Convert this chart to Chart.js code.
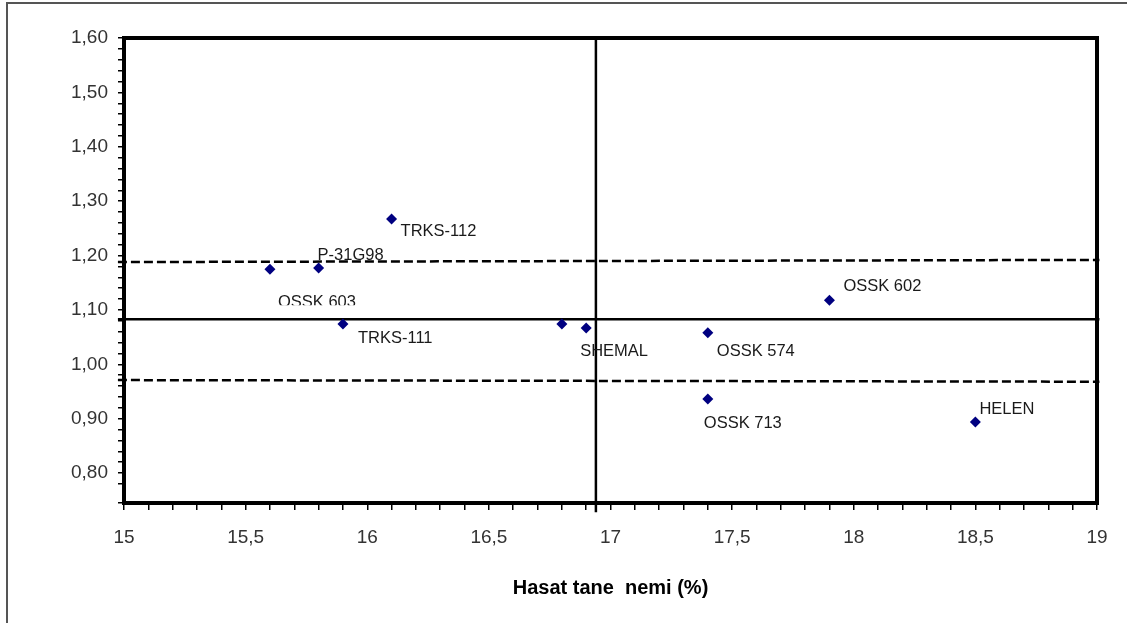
<!DOCTYPE html>
<html>
<head>
<meta charset="utf-8">
<script src="https://cdn.jsdelivr.net/npm/chart.js@4"></script>
<style>
    html, body { margin: 0; padding: 0; background: #fff; overflow: hidden; }
    #wrap { position: relative; width: 1127px; height: 623px; }
    #frame { position: absolute; left: 6px; top: 2px; width: 1200px; height: 700px; border: 2px solid #555; box-sizing: border-box; }
    canvas { position: absolute; left: 0; top: 0; }
</style>
</head>
<body>
<div id="wrap">
    <div id="frame"></div>
    <canvas id="chart" width="1127" height="623"></canvas>
</div>
<script>
// Hibritler: hasat tane nemi (%) ve indeks değeri
const hybrids = ['OSSK 603', 'P-31G98', 'TRKS-112', 'TRKS-111', '', 'SHEMAL', 'OSSK 574', 'OSSK 713', 'OSSK 602', 'HELEN'];
const moisture = [15.6, 15.8, 16.1, 15.9, 16.8, 16.9, 17.4, 17.4, 17.9, 18.5];
const indexValues = [1.175, 1.177, 1.267, 1.074, 1.074, 1.067, 1.058, 0.936, 1.118, 0.894];

// Ortalama ve sınır çizgileri
const meanX = [14.975, 19.01];
const meanY = [1.083, 1.083];
const upperY = [1.188, 1.192];
const lowerY = [0.971, 0.968];
const moistureMeanX = [16.94, 16.94];
const moistureMeanY = [1.60, 0.728];

// Etiketlerin noktaya göre kayması (piksel)
const labelOffsets = [[8, 33], [-1, -13], [9, 12], [15, 14], [0, 0], [-6, 24], [9, 19], [-4, 24], [14, -14], [4, -13]];
const clippedLabel = 0;

const FONT = '"Liberation Sans", Arial, sans-serif';

const toPoints = (xs, ys) => xs.map((x, i) => ({ x: x, y: ys[i] }));

const pointNames = {
    id: 'pointNames',
    afterDatasetsDraw(chart) {
        const ctx = chart.ctx;
        const meta = chart.getDatasetMeta(0);
        ctx.save();
        ctx.font = '16.5px ' + FONT;
        ctx.fillStyle = '#1a1a1a';
        ctx.textBaseline = 'middle';
        meta.data.forEach((pt, i) => {
            if (!hybrids[i]) return;
            const [dx, dy] = labelOffsets[i];
            ctx.save();
            if (i === clippedLabel) {
                ctx.beginPath();
                ctx.rect(0, 0, chart.width, pt.y + dy + 3);
                ctx.clip();
            }
            ctx.fillText(hybrids[i], pt.x + dx, pt.y + dy);
            ctx.restore();
        });
        ctx.restore();
    }
};

const plotFrame = {
    id: 'plotFrame',
    afterDraw(chart) {
        const { left, right, top, bottom } = chart.chartArea;
        const ctx = chart.ctx;
        ctx.save();
        ctx.strokeStyle = '#000';
        ctx.lineWidth = 4;
        ctx.beginPath();
        ctx.moveTo(left - 2, top);
        ctx.lineTo(right, top);
        ctx.lineTo(right, bottom + 2);
        ctx.stroke();
        ctx.restore();
    }
};

const lineStyle = (dash, width) => ({
    type: 'scatter',
    showLine: true,
    borderColor: '#000',
    borderWidth: width,
    borderDash: dash,
    pointRadius: 0,
    fill: false,
    clip: false
});

new Chart(document.getElementById('chart'), {
    type: 'scatter',
    data: {
        datasets: [
            {
                data: toPoints(moisture, indexValues),
                pointStyle: 'rectRot',
                pointRadius: 5.5,
                backgroundColor: '#000080',
                borderColor: '#000080',
                borderWidth: 0
            },
            Object.assign({ data: toPoints(meanX, meanY) }, lineStyle([], 2.5)),
            Object.assign({ data: toPoints(meanX, upperY) }, lineStyle([9, 4], 2.5)),
            Object.assign({ data: toPoints(meanX, lowerY) }, lineStyle([9, 4], 2.5)),
            Object.assign({ data: toPoints(moistureMeanX, moistureMeanY) }, lineStyle([], 2.5))
        ]
    },
    options: {
        responsive: false,
        animation: false,
        layout: { padding: { left: 0, top: 38, right: 30, bottom: 0 } },
        plugins: {
            legend: { display: false },
            tooltip: { enabled: false }
        },
        scales: {
            x: {
                type: 'linear',
                min: 15,
                max: 19,
                afterFit(scale) { scale.height = 120; },
                border: { display: true, color: '#000', width: 4 },
                grid: { display: true, drawOnChartArea: false, drawTicks: true, tickLength: 7, color: '#000', lineWidth: 1.5 },
                ticks: {
                    stepSize: 0.1,
                    autoSkip: false,
                    maxRotation: 0,
                    padding: 16,
                    color: '#333',
                    font: { family: FONT, size: 19 },
                    callback(v) {
                        const t = Math.round(v * 10);
                        return t % 5 === 0 ? String(t / 10).replace('.', ',') : '';
                    }
                },
                title: {
                    display: true,
                    text: 'Hasat tane  nemi (%)',
                    color: '#000',
                    font: { family: FONT, size: 20, weight: 'bold' },
                    padding: { top: 0, bottom: 23 }
                }
            },
            y: {
                type: 'linear',
                min: 0.745,
                max: 1.6,
                afterFit(scale) { scale.width = 124; },
                border: { display: true, color: '#000', width: 4 },
                grid: { display: true, drawOnChartArea: false, drawTicks: true, tickLength: 6, color: '#000', lineWidth: 1.5 },
                ticks: {
                    stepSize: 0.02,
                    autoSkip: false,
                    padding: 10,
                    color: '#333',
                    font: { family: FONT, size: 19 },
                    callback(v) {
                        const t = Math.round(v * 100);
                        return t % 10 === 0 ? v.toFixed(2).replace('.', ',') : '';
                    }
                }
            }
        }
    },
    plugins: [pointNames, plotFrame]
});
</script>
</body>
</html>
